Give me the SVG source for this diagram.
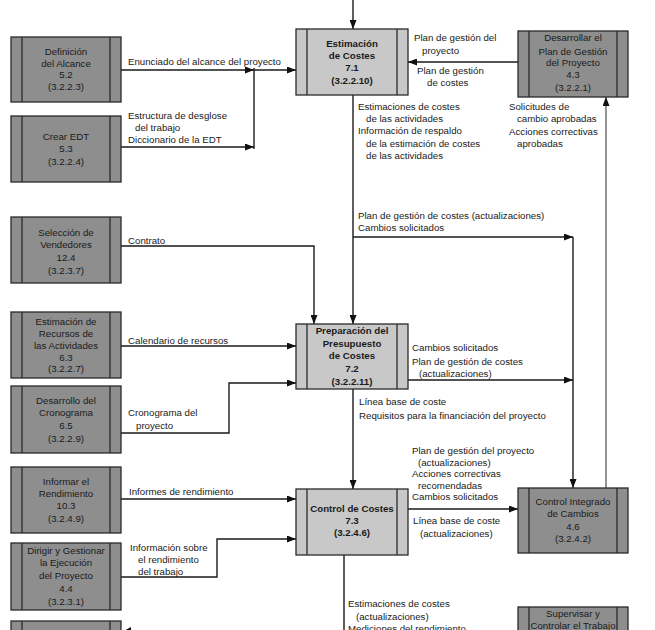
<svg xmlns="http://www.w3.org/2000/svg" width="655" height="630" viewBox="0 0 655 630">
<defs>
<marker id="ah" markerWidth="9" markerHeight="7" refX="9" refY="3.5" orient="auto" markerUnits="userSpaceOnUse">
<polygon points="0,0 9,3.5 0,7" fill="#111"/>
</marker>
<style>
.dk{fill:#8e8e8e;stroke:#2a2a2a;stroke-width:1.3}
.lt{fill:#c8c8c8;stroke:#2a2a2a;stroke-width:1.3}
.in{stroke:#2a2a2a;stroke-width:1.3}
.c{fill:none;stroke:#1a1a1a;stroke-width:1.4}
.g{fill:none;stroke:#666;stroke-width:1.4}
text{font-family:"Liberation Sans",Arial,sans-serif;font-size:9.7px;fill:#1a1a1a}
.m{text-anchor:middle}
.b{font-weight:bold}
</style>
</defs>
<rect width="655" height="630" fill="#fff"/>

<g id="connectors">
<path class="c" d="M353,0 V29" marker-end="url(#ah)"/>
<path class="c" d="M121,70 H254" marker-end="url(#ah)"/>
<path class="c" d="M121,147 H254" marker-end="url(#ah)"/>
<path class="c" d="M254,68 V149"/>
<path class="c" d="M254,70 H296" marker-end="url(#ah)"/>
<path class="c" d="M518,62 H408" marker-end="url(#ah)"/>
<path class="c" d="M353,95 V324" marker-end="url(#ah)"/>
<path class="c" d="M353,237 H573" marker-end="url(#ah)"/>
<path class="c" d="M573,237 V488" marker-end="url(#ah)"/>
<path class="g" d="M606,488 V97" marker-end="url(#ah)"/>
<path class="c" d="M121,246 H314 V324" marker-end="url(#ah)"/>
<path class="c" d="M121,346 H296" marker-end="url(#ah)"/>
<path class="c" d="M121,433 H229 V383 H296" marker-end="url(#ah)"/>
<path class="c" d="M408,380 H573" marker-end="url(#ah)"/>
<path class="c" d="M353,389 V489" marker-end="url(#ah)"/>
<path class="c" d="M121,499 H296" marker-end="url(#ah)"/>
<path class="c" d="M121,577 H217 V539 H296" marker-end="url(#ah)"/>
<path class="c" d="M408,509 H518" marker-end="url(#ah)"/>
<path class="c" d="M344,555 V630"/>
<polygon points="122,632 131,627 131,637" fill="#111"/>
</g>

<g id="definicion-alcance">
<rect class="dk" x="11" y="37" width="110" height="65"/>
<line class="in" x1="22" y1="37" x2="22" y2="102"/><line class="in" x1="110" y1="37" x2="110" y2="102"/>
<text class="m" x="66" y="55">Definición</text>
<text class="m" x="66" y="67">del Alcance</text>
<text class="m" x="66" y="78">5.2</text>
<text class="m" x="66" y="90">(3.2.2.3)</text>
</g>

<g id="crear-edt">
<rect class="dk" x="11" y="116" width="110" height="66"/>
<line class="in" x1="22" y1="116" x2="22" y2="182"/><line class="in" x1="110" y1="116" x2="110" y2="182"/>
<text class="m" x="66" y="140">Crear EDT</text>
<text class="m" x="66" y="152">5.3</text>
<text class="m" x="66" y="165">(3.2.2.4)</text>
</g>

<g id="seleccion-vendedores">
<rect class="dk" x="11" y="217" width="110" height="66"/>
<line class="in" x1="22" y1="217" x2="22" y2="283"/><line class="in" x1="110" y1="217" x2="110" y2="283"/>
<text class="m" x="66" y="236">Selección de</text>
<text class="m" x="66" y="248">Vendedores</text>
<text class="m" x="66" y="261">12.4</text>
<text class="m" x="66" y="274">(3.2.3.7)</text>
</g>

<g id="estimacion-recursos">
<rect class="dk" x="11" y="312" width="110" height="66"/>
<line class="in" x1="22" y1="312" x2="22" y2="378"/><line class="in" x1="110" y1="312" x2="110" y2="378"/>
<text class="m" x="66" y="325">Estimación de</text>
<text class="m" x="66" y="337">Recursos de</text>
<text class="m" x="66" y="349">las Actividades</text>
<text class="m" x="66" y="361">6.3</text>
<text class="m" x="66" y="372">(3.2.2.7)</text>
</g>

<g id="desarrollo-cronograma">
<rect class="dk" x="11" y="386" width="110" height="67"/>
<line class="in" x1="22" y1="386" x2="22" y2="453"/><line class="in" x1="110" y1="386" x2="110" y2="453"/>
<text class="m" x="66" y="404">Desarrollo del</text>
<text class="m" x="66" y="416">Cronograma</text>
<text class="m" x="66" y="429">6.5</text>
<text class="m" x="66" y="442">(3.2.2.9)</text>
</g>

<g id="informar-rendimiento">
<rect class="dk" x="11" y="467" width="110" height="66"/>
<line class="in" x1="22" y1="467" x2="22" y2="533"/><line class="in" x1="110" y1="467" x2="110" y2="533"/>
<text class="m" x="66" y="485">Informar el</text>
<text class="m" x="66" y="497">Rendimiento</text>
<text class="m" x="66" y="509">10.3</text>
<text class="m" x="66" y="522">(3.2.4.9)</text>
</g>

<g id="dirigir-gestionar">
<rect class="dk" x="11" y="543" width="110" height="67"/>
<line class="in" x1="22" y1="543" x2="22" y2="610"/><line class="in" x1="110" y1="543" x2="110" y2="610"/>
<text class="m" x="66" y="554">Dirigir y Gestionar</text>
<text class="m" x="66" y="566">la Ejecución</text>
<text class="m" x="66" y="579">del Proyecto</text>
<text class="m" x="66" y="592">4.4</text>
<text class="m" x="66" y="605">(3.2.3.1)</text>
</g>

<g id="caja-inferior-izquierda">
<rect class="dk" x="11" y="621" width="110" height="20"/>
<line class="in" x1="22" y1="621" x2="22" y2="641"/><line class="in" x1="110" y1="621" x2="110" y2="641"/>
</g>

<g id="estimacion-costes">
<rect class="lt" x="296" y="29" width="112" height="66"/>
<line class="in" x1="307" y1="29" x2="307" y2="95"/><line class="in" x1="397" y1="29" x2="397" y2="95"/>
<text class="m b" x="352" y="47">Estimación</text>
<text class="m b" x="352" y="59">de Costes</text>
<text class="m b" x="352" y="71">7.1</text>
<text class="m b" x="352" y="84">(3.2.2.10)</text>
</g>

<g id="preparacion-presupuesto">
<rect class="lt" x="296" y="324" width="112" height="65"/>
<line class="in" x1="307" y1="324" x2="307" y2="389"/><line class="in" x1="397" y1="324" x2="397" y2="389"/>
<text class="m b" x="352" y="334">Preparación del</text>
<text class="m b" x="352" y="347">Presupuesto</text>
<text class="m b" x="352" y="359">de Costes</text>
<text class="m b" x="352" y="372">7.2</text>
<text class="m b" x="352" y="385">(3.2.2.11)</text>
</g>

<g id="control-costes">
<rect class="lt" x="296" y="489" width="112" height="66"/>
<line class="in" x1="307" y1="489" x2="307" y2="555"/><line class="in" x1="397" y1="489" x2="397" y2="555"/>
<text class="m b" x="352" y="512">Control de Costes</text>
<text class="m b" x="352" y="524">7.3</text>
<text class="m b" x="352" y="536">(3.2.4.6)</text>
</g>

<g id="desarrollar-plan">
<rect class="dk" x="518" y="31" width="110" height="66"/>
<line class="in" x1="529" y1="31" x2="529" y2="97"/><line class="in" x1="617" y1="31" x2="617" y2="97"/>
<text class="m" x="573" y="41">Desarrollar el</text>
<text class="m" x="573" y="55">Plan de Gestión</text>
<text class="m" x="573" y="66">del Proyecto</text>
<text class="m" x="573" y="78">4.3</text>
<text class="m" x="573" y="91">(3.2.2.1)</text>
</g>

<g id="control-integrado">
<rect class="dk" x="518" y="488" width="110" height="65"/>
<line class="in" x1="529" y1="488" x2="529" y2="553"/><line class="in" x1="617" y1="488" x2="617" y2="553"/>
<text class="m" x="573" y="505">Control Integrado</text>
<text class="m" x="573" y="517">de Cambios</text>
<text class="m" x="573" y="530">4.6</text>
<text class="m" x="573" y="542">(3.2.4.2)</text>
</g>

<g id="supervisar-controlar">
<rect class="dk" x="518" y="607" width="110" height="30"/>
<line class="in" x1="529" y1="607" x2="529" y2="637"/><line class="in" x1="617" y1="607" x2="617" y2="637"/>
<text class="m" x="573" y="617">Supervisar y</text>
<text class="m" x="573" y="629">Controlar el Trabajo</text>
</g>

<g id="labels">
<text x="128" y="65">Enunciado del alcance del proyecto</text>
<text x="128" y="119">Estructura de desglose</text>
<text x="135" y="131">del trabajo</text>
<text x="128" y="143">Diccionario de la EDT</text>
<text x="414" y="41">Plan de gestión del</text>
<text x="422" y="54">proyecto</text>
<text x="417" y="74">Plan de gestión</text>
<text x="427" y="86">de costes</text>
<text x="509" y="110">Solicitudes de</text>
<text x="517" y="122">cambio aprobadas</text>
<text x="509" y="135">Acciones correctivas</text>
<text x="517" y="147">aprobadas</text>
<text x="358" y="110">Estimaciones de costes</text>
<text x="366" y="122">de las actividades</text>
<text x="358" y="134">Información de respaldo</text>
<text x="366" y="147">de la estimación de costes</text>
<text x="366" y="159">de las actividades</text>
<text x="358" y="219">Plan de gestión de costes (actualizaciones)</text>
<text x="358" y="231">Cambios solicitados</text>
<text x="128" y="244">Contrato</text>
<text x="128" y="344">Calendario de recursos</text>
<text x="412" y="351">Cambios solicitados</text>
<text x="412" y="365">Plan de gestión de costes</text>
<text x="419" y="377">(actualizaciones)</text>
<text x="359" y="405">Línea base de coste</text>
<text x="359" y="419">Requisitos para la financiación del proyecto</text>
<text x="128" y="416">Cronograma del</text>
<text x="136" y="429">proyecto</text>
<text x="412" y="454">Plan de gestión del proyecto</text>
<text x="418" y="466">(actualizaciones)</text>
<text x="412" y="477">Acciones correctivas</text>
<text x="418" y="489">recomendadas</text>
<text x="412" y="500">Cambios solicitados</text>
<text x="413" y="524">Línea base de coste</text>
<text x="420" y="537">(actualizaciones)</text>
<text x="129" y="495">Informes de rendimiento</text>
<text x="130" y="551">Información sobre</text>
<text x="138" y="563">el rendimiento</text>
<text x="138" y="575">del trabajo</text>
<text x="348" y="607">Estimaciones de costes</text>
<text x="356" y="620">(actualizaciones)</text>
<text x="348" y="632">Mediciones del rendimiento</text>
</g>
</svg>
